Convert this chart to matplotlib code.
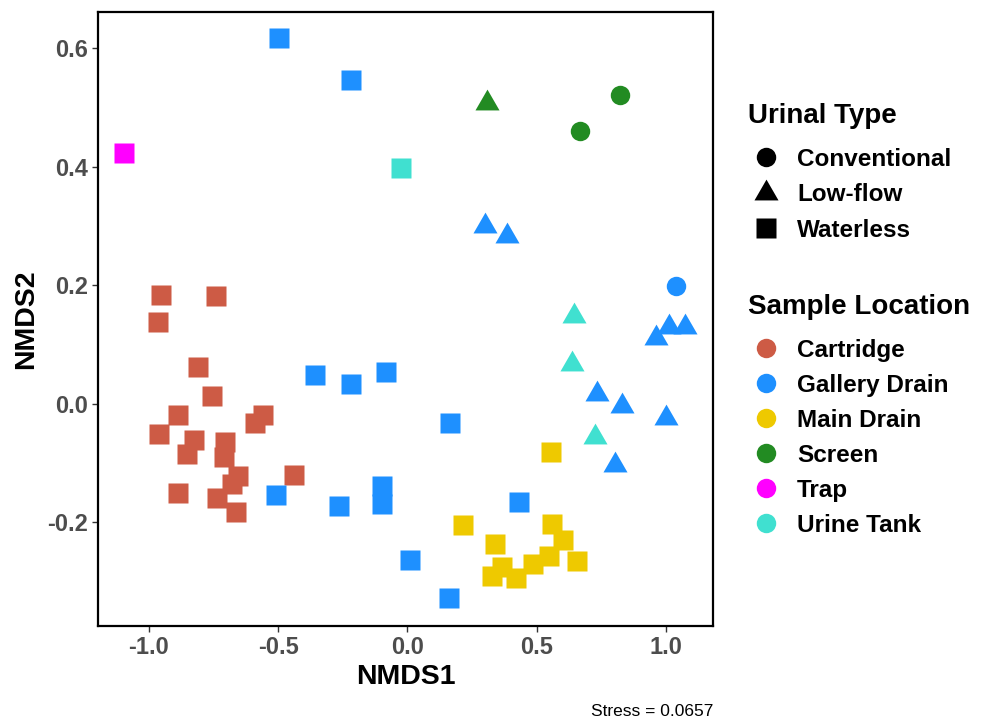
import numpy as np
import matplotlib
matplotlib.use("Agg")
import matplotlib.pyplot as plt
from matplotlib.path import Path

plt.rcParams['font.family'] = ['Liberation Sans', 'DejaVu Sans']

# NMDS scores, grouped by sample location / urinal type
cart_x = [-0.952, -0.739, -0.966, -0.811, -0.756, -0.886, -0.961, -0.824, -0.851, -0.705,
          -0.709, -0.557, -0.589, -0.654, -0.678, -0.440, -0.886, -0.735, -0.663]
cart_y = [0.183, 0.181, 0.137, 0.062, 0.012, -0.019, -0.051, -0.061, -0.085, -0.065,
          -0.091, -0.019, -0.032, -0.122, -0.135, -0.121, -0.151, -0.159, -0.183]

gal_sq_x = [-0.495, -0.220, -0.356, -0.217, -0.081, 0.166, -0.507, -0.263, -0.100, -0.100,
            0.433, 0.008, 0.159]
gal_sq_y = [0.617, 0.546, 0.048, 0.033, 0.053, -0.033, -0.154, -0.173, -0.139, -0.170,
            -0.166, -0.264, -0.328]
gal_tri_x = [0.301, 0.386, 1.011, 1.075, 0.961, 0.732, 0.829, 0.999, 0.803]
gal_tri_y = [0.299, 0.283, 0.129, 0.130, 0.110, 0.016, -0.004, -0.025, -0.103]
gal_circ_x = [1.039]
gal_circ_y = [0.199]

main_x = [0.554, 0.215, 0.338, 0.560, 0.601, 0.548, 0.485, 0.654, 0.365, 0.326, 0.420]
main_y = [-0.081, -0.205, -0.237, -0.203, -0.231, -0.257, -0.271, -0.266, -0.276, -0.291, -0.295]

scr_circ_x = [0.823, 0.667]
scr_circ_y = [0.521, 0.460]
scr_tri_x = [0.308]
scr_tri_y = [0.507]

trap_x = [-1.095]
trap_y = [0.423]

tank_sq_x = [-0.023]
tank_sq_y = [0.397]
tank_tri_x = [0.646, 0.637, 0.725]
tank_tri_y = [0.147, 0.066, -0.056]

locations = ['Cartridge', 'Gallery Drain', 'Main Drain', 'Screen', 'Trap', 'Urine Tank']
colors = ['#CD5B45', '#1E90FF', '#EEC900', '#228B22', '#FF00FF', '#40E0D0']
types = ['Conventional', 'Low-flow', 'Waterless']

# triangle with its centroid on the point, like R's pch 17
tri = Path([(0, 1), (-0.866, -0.5), (0.866, -0.5), (0, 1)],
           [Path.MOVETO, Path.LINETO, Path.LINETO, Path.CLOSEPOLY])
shape = {'Conventional': 'o', 'Low-flow': tri, 'Waterless': 's'}
msize = {'Conventional': 14, 'Low-flow': 20, 'Waterless': 13.7}

groups = [
    (cart_x, cart_y, 'Cartridge', 'Waterless'),
    (gal_sq_x, gal_sq_y, 'Gallery Drain', 'Waterless'),
    (gal_tri_x, gal_tri_y, 'Gallery Drain', 'Low-flow'),
    (gal_circ_x, gal_circ_y, 'Gallery Drain', 'Conventional'),
    (main_x, main_y, 'Main Drain', 'Waterless'),
    (scr_circ_x, scr_circ_y, 'Screen', 'Conventional'),
    (scr_tri_x, scr_tri_y, 'Screen', 'Low-flow'),
    (trap_x, trap_y, 'Trap', 'Waterless'),
    (tank_sq_x, tank_sq_y, 'Urine Tank', 'Waterless'),
    (tank_tri_x, tank_tri_y, 'Urine Tank', 'Low-flow'),
]

W, H = 991, 719
fig = plt.figure(figsize=(W / 100, H / 100), dpi=100)
ax = fig.add_axes([98 / W, 1 - 626 / H, 615 / W, 614 / H])

for gx, gy, loc, ut in groups:
    c = colors[locations.index(loc)]
    ax.plot(gx, gy, linestyle='none', marker=shape[ut], markersize=msize[ut],
            markerfacecolor=c, markeredgecolor='none')

ax.set_xlim(-1.197, 1.182)
ax.set_ylim(-0.3755, 0.661)
ax.set_xticks([-1.0, -0.5, 0.0, 0.5, 1.0])
ax.set_xticklabels(['-1.0', '-0.5', '0.0', '0.5', '1.0'])
ax.set_yticks([-0.2, 0.0, 0.2, 0.4, 0.6])
ax.set_yticklabels(['-0.2', '0.0', '0.2', '0.4', '0.6'])
ax.tick_params(direction='out', length=4, width=1, color='#333333',
               labelsize=17, labelcolor='#4D4D4D', pad=3)
for lab in ax.get_xticklabels() + ax.get_yticklabels():
    lab.set_fontweight('bold')
for sp in ax.spines.values():
    sp.set_linewidth(1.6)
    sp.set_color('black')

ax.set_xlabel('NMDS1', fontsize=20.5, fontweight='bold', labelpad=4)
ax.set_ylabel('NMDS2', fontsize=20.5, fontweight='bold', labelpad=6)

fig.text(713 / W, 1 - 716 / H, 'Stress = 0.0657', ha='right', va='baseline', fontsize=12.5)

# legends, laid out by hand in pixel positions
def fx(px):
    return px / W

def fy(py):
    return 1 - py / H

title_size = 20
label_size = 17.5
cap = 0.716 * label_size * 100 / 72 / 2

fig.text(fx(748), fy(123), 'Urinal Type', fontsize=title_size, fontweight='bold',
         ha='left', va='baseline')
for i, t in enumerate(types):
    yc = 157 + 35.5 * i
    fig.add_artist(plt.Line2D([fx(766)], [fy(yc)], transform=fig.transFigure,
                              linestyle='none', marker=shape[t], markersize=msize[t],
                              markerfacecolor='black', markeredgecolor='none'))
    fig.text(fx(797), fy(yc + cap), t, fontsize=label_size, fontweight='bold',
             ha='left', va='baseline')

fig.text(fx(748), fy(314), 'Sample Location', fontsize=title_size, fontweight='bold',
         ha='left', va='baseline')
for i, (loc, c) in enumerate(zip(locations, colors)):
    yc = 348 + 35 * i
    fig.add_artist(plt.Line2D([fx(766)], [fy(yc)], transform=fig.transFigure,
                              linestyle='none', marker='o', markersize=14,
                              markerfacecolor=c, markeredgecolor='none'))
    fig.text(fx(797), fy(yc + cap), loc, fontsize=label_size, fontweight='bold',
             ha='left', va='baseline')

fig.savefig('out.png', dpi=100)
